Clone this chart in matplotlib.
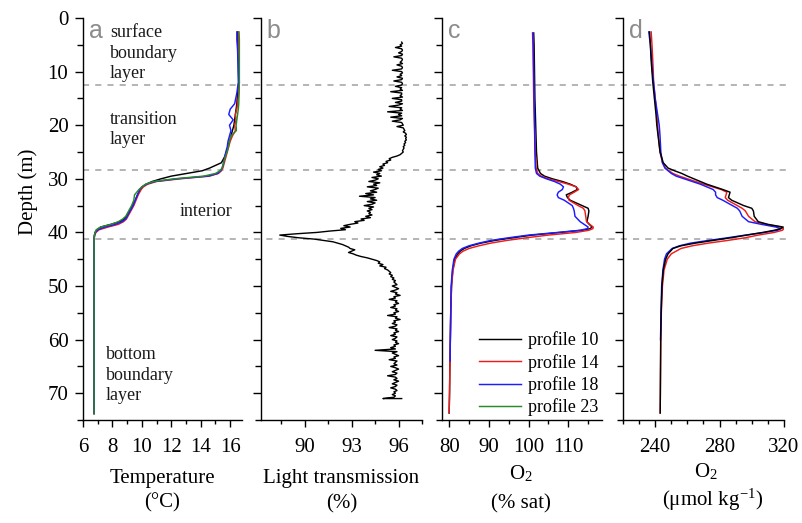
import numpy as np
import matplotlib
matplotlib.use('Agg')
import matplotlib.pyplot as plt
from matplotlib.ticker import MultipleLocator, FixedLocator
from matplotlib.lines import Line2D
import matplotlib.transforms as mtransforms

plt.rcParams['font.family'] = ['Liberation Serif', 'DejaVu Serif']
plt.rcParams['mathtext.fontset'] = 'stix'

# ---------------- data ----------------
profiles = ['profile 10', 'profile 14', 'profile 18', 'profile 23']
colors = ['#000000', '#ee1c1c', '#1c1cff', '#2a8a2a']

# Panel a: temperature (degC)
depth_t = [2.6, 4, 6, 8, 10, 12, 14, 16, 17, 18, 19, 20, 21, 22, 23, 24, 25, 26, 27, 28,
           28.5, 29, 29.5, 30, 30.5, 31, 31.5, 32, 33, 34, 35, 36, 37, 37.5, 38, 38.5,
           39, 39.5, 40, 40.5, 41, 42, 45, 50, 60, 70, 73.8]
temp_10 = [16.50, 16.50, 16.52, 16.55, 16.55, 16.58, 16.50, 16.45, 16.40, 16.35,
           16.30, 16.25, 16.15, 16.05, 15.95, 15.85, 15.75, 15.60, 15.40, 14.60,
           14.10, 13.05, 12.00, 11.30, 10.70, 10.30, 10.05, 9.90, 9.70, 9.55,
           9.35, 9.15, 8.95, 8.80, 8.50, 7.90, 7.20, 6.95, 6.82, 6.78,
           6.76, 6.75, 6.75, 6.75, 6.75, 6.75, 6.75]
temp_14 = [16.55, 16.55, 16.58, 16.60, 16.60, 16.62, 16.58, 16.50, 16.45, 16.35,
           16.40, 16.30, 16.35, 16.15, 16.00, 15.90, 15.80, 15.70, 15.60, 15.50,
           15.40, 15.20, 14.60, 12.60, 11.00, 10.40, 10.10, 9.95, 9.75, 9.60,
           9.45, 9.25, 9.05, 8.95, 8.75, 8.40, 7.70, 7.10, 6.88, 6.80,
           6.77, 6.75, 6.75, 6.75, 6.75, 6.75, 6.75]
temp_18 = [16.45, 16.45, 16.50, 16.52, 16.55, 16.55, 16.45, 16.30, 16.00, 15.90,
           16.20, 15.95, 16.05, 15.95, 15.85, 15.80, 15.70, 15.62, 15.55, 15.45,
           15.35, 15.15, 14.50, 12.40, 10.90, 10.30, 10.00, 9.85, 9.70, 9.55,
           9.40, 9.20, 9.00, 8.90, 8.65, 8.20, 7.50, 7.00, 6.85, 6.78,
           6.76, 6.75, 6.75, 6.75, 6.75, 6.75, 6.75]
temp_23 = [16.60, 16.62, 16.62, 16.62, 16.62, 16.62, 16.60, 16.58, 16.55, 16.50,
           16.45, 16.40, 16.42, 16.05, 15.95, 15.88, 15.78, 15.65, 15.55, 15.45,
           15.30, 15.00, 14.20, 12.20, 10.80, 10.25, 10.00, 9.80, 9.50, 9.45,
           9.30, 9.10, 8.90, 8.70, 8.40, 7.90, 7.20, 6.90, 6.82, 6.78,
           6.76, 6.75, 6.75, 6.75, 6.75, 6.75, 6.75]

# Panel b: light transmission (%), 0.25 m sampling from 4.5 m to 71 m (+ end tick)
trans_depth = list(np.arange(4.5, 71.001, 0.25)) + [71.0]
trans = [
    96.2, 96.25, 96.1, 96.2, 95.8, 96.2, 96.25, 96.2, 96.0, 96.25, 96.2, 95.7, 96.2, 96.25, 96.2, 96.1, 96.25, 95.9, 96.2, 96.25,
    96.2, 95.6, 96.2, 96.25, 96.1, 96.2, 95.9, 96.25, 96.2, 95.7, 96.2, 96.25, 96.2, 95.8, 96.2, 96.1, 96.25, 95.5, 96.2, 96.2,
    96.1, 96.25, 95.6, 96.2, 96.2, 95.8, 96.25, 96.0, 95.4, 96.2, 96.1, 96.25, 95.3, 96.2, 96.0, 96.2, 95.5, 96.25, 96.1, 95.6,
    96.2, 96.25, 96.3, 95.9, 96.3, 96.35, 96.4, 96.3, 96.45, 96.5, 96.4, 96.5, 96.45, 96.5, 96.4, 96.45, 96.35, 96.4, 96.3, 96.35,
    96.3, 96.25, 96.3, 96.2, 96.1, 95.9, 95.6, 95.4, 95.5, 95.2, 95.3, 95.0, 95.1, 94.8, 95.0, 94.7, 94.9, 94.4, 94.8, 94.6,
    94.9, 94.3, 94.7, 94.5, 94.1, 94.8, 94.4, 94.6, 94.0, 94.7, 94.5, 94.2, 94.6, 93.9, 94.4, 93.5, 94.5, 94.2, 94.6, 94.0,
    94.5, 94.3, 93.8, 94.4, 94.1, 94.3, 94.0, 94.2, 94.1, 94.3, 93.9, 94.2, 93.6, 93.8, 93.2, 93.4, 92.9, 92.5, 92.9, 92.3,
    92.6, 91.6, 90.8, 89.5, 88.4, 88.9, 89.6, 90.6, 91.2, 91.8, 92.1, 92.4, 92.6, 92.8, 92.9, 93.2, 93.0, 92.8, 93.1, 93.3,
    93.6, 94.0, 94.3, 94.6, 94.8, 94.7, 95.0, 94.8, 95.2, 95.1, 95.3, 95.4, 95.5, 95.4, 95.6, 95.5, 95.7, 95.6, 95.8, 95.7,
    95.8, 95.9, 95.6, 95.8, 96.0, 95.8, 95.5, 95.9, 95.8, 96.1, 95.7, 95.8, 95.4, 95.9, 95.8, 96.0, 95.7, 95.8, 95.5, 95.9,
    95.8, 96.0, 95.7, 95.8, 95.3, 95.9, 95.8, 96.1, 95.7, 95.8, 95.6, 95.9, 95.8, 95.4, 95.9, 95.8, 96.0, 95.7, 95.8, 95.5,
    95.9, 95.8, 95.6, 95.9, 95.8, 96.0, 95.7, 95.8, 95.5, 95.8, 94.5, 95.9, 95.6, 95.8, 96.0, 95.7, 95.8, 95.4, 95.9, 95.8,
    95.7, 95.9, 95.5, 95.8, 96.0, 95.8, 95.6, 95.9, 95.8, 95.3, 95.8, 95.9, 95.7, 96.0, 95.8, 95.6, 95.9, 95.8, 95.5, 95.8,
    95.9, 95.7, 95.8, 95.6, 95.8, 95.7, 95.0, 96.2]

# Panel c: O2 (% saturation)
depth_c = [2.8, 5, 10, 15, 20, 25, 28, 29, 29.5, 30, 30.5, 31, 31.5, 32, 32.5, 33, 33.5,
           34, 35, 35.5, 36, 37, 38, 38.5, 39, 39.3, 39.6, 40, 40.5, 41, 41.5, 42, 42.5,
           43, 43.5, 44, 45, 47, 50, 55, 60, 64, 70, 73.7]
sat_10 = [101.3, 101.4, 101.5, 101.6, 101.8, 102.0, 102.3,
          103.0, 104.0, 106.0, 108.5, 110.5, 112.0, 112.3,
          111.0, 109.5, 109.8, 110.5, 113.5, 115.0, 115.2,
          115.0, 114.7, 115.3, 116.0, 115.5, 113.5, 108.0,
          101.0, 96.0, 91.5, 88.0, 85.5, 83.8, 82.8,
          82.2, 81.4, 80.9, 80.6, 80.4, 80.3, 80.2, 80.1, 80.0]
sat_14 = [101.0, 101.1, 101.2, 101.3, 101.5, 101.7, 101.9,
          102.3, 103.2, 105.0, 107.5, 110.0, 112.0, 112.6,
          111.5, 110.3, 110.0, 110.2, 112.5, 113.8, 114.2,
          114.4, 114.6, 115.4, 116.3, 116.2, 115.2, 112.0,
          105.0, 99.5, 94.5, 90.5, 87.5, 85.0, 83.5,
          82.6, 81.6, 81.0, 80.6, 80.4, 80.3, 80.2, 80.1, 80.0]
sat_18 = [101.1, 101.2, 101.3, 101.4, 101.5, 101.6, 101.7,
          102.0, 102.8, 104.5, 106.5, 108.0, 108.8, 108.5,
          107.5, 107.2, 107.5, 109.0, 111.0, 111.3, 111.5,
          111.7, 113.0, 114.0, 115.0, 114.8, 113.0, 107.5,
          100.0, 95.0, 90.5, 87.5, 85.0, 83.3, 82.4,
          81.8, 81.2, 80.8, 80.5, 80.4, 80.3, 80.25, np.nan, np.nan]

# Panel d: O2 (umol/kg)
depth_d = [2.6, 5, 8, 10, 12, 15, 18, 20, 22, 25, 27, 28, 28.5, 29, 29.5, 30, 31, 32,
           32.5, 33, 33.5, 34, 35, 35.5, 36, 37, 38, 38.5, 39, 39.3, 39.6, 40, 40.5,
           41, 41.5, 42, 42.5, 43, 44, 45, 47, 50, 55, 60, 70, 73.7]
conc_10 = [236.5, 237.0, 237.5, 238.0, 238.5, 239.5, 240.5, 241.0, 241.8, 243.0,
           245.0, 248.0, 252.0, 256.5, 260.0, 264.0, 272.0, 282.0, 286.5, 286.0,
           285.5, 287.5, 295.0, 300.0, 301.0, 301.5, 304.0, 310.0, 319.5, 318.0,
           314.0, 307.0, 297.0, 287.0, 276.0, 265.0, 256.0, 251.0, 248.0, 246.5,
           245.0, 244.2, 243.7, 243.4, 243.2, 243.1]
conc_14 = [237.5, 238.0, 238.5, 238.8, 239.0, 240.0, 241.0, 241.5, 242.0, 243.0,
           244.5, 246.5, 248.5, 251.0, 255.0, 260.0, 270.0, 281.0, 284.5, 284.0,
           283.5, 285.0, 291.0, 294.0, 296.0, 298.0, 302.0, 309.0, 318.0, 320.0,
           319.0, 314.0, 304.0, 296.0, 285.0, 273.0, 263.0, 256.0, 250.0, 247.5,
           245.5, 244.5, 243.8, 243.5, 243.2, 243.1]
conc_18 = [236.0, 237.0, 237.8, 238.3, 239.0, 240.0, 241.5, 242.5, 243.0, 243.5,
           244.5, 246.0, 248.0, 250.0, 253.0, 258.0, 268.0, 276.0, 277.5, 277.5,
           278.5, 282.0, 288.0, 291.0, 292.5, 294.0, 298.0, 306.0, 315.0, 318.0,
           316.0, 308.0, 296.0, 285.0, 273.0, 262.0, 255.0, 250.5, 247.0, 245.8,
           244.8, 244.0, 243.6, 243.3, np.nan, np.nan]

layer_depths = [12.5, 28.3, 41.3]
panel_letters = ['a', 'b', 'c', 'd']

# ---------------- layout ----------------
W, H = 803, 523
fig = plt.figure(figsize=(W / 100, H / 100), dpi=100)


def rect(x0, x1, ytop, ybot):
    return [x0 / W, 1 - ybot / H, (x1 - x0) / W, (ybot - ytop) / H]


ax_a = fig.add_axes(rect(83, 242, 18, 420))
ax_b = fig.add_axes(rect(261, 422, 18, 420))
ax_c = fig.add_axes(rect(442, 602, 18, 420))
ax_d = fig.add_axes(rect(623, 784, 18, 420))
axes = [ax_a, ax_b, ax_c, ax_d]

lw = 1.05
la = []
for vals, c in zip([temp_10, temp_14, temp_18, temp_23], colors):
    l, = ax_a.plot(vals, depth_t, color=c, lw=lw)
    la.append(l)

ax_b.plot(trans, trans_depth, color='black', lw=1.0)

ax_c.plot(sat_10, depth_c, color=colors[0], lw=lw)
ax_c.plot(sat_14, depth_c, color=colors[1], lw=lw)
ax_c.plot(sat_18, depth_c, color=colors[2], lw=lw)

ax_d.plot(conc_14, depth_d, color=colors[1], lw=lw)
ax_d.plot(conc_18, depth_d, color=colors[2], lw=lw)
ax_d.plot(conc_10, depth_d, color=colors[0], lw=lw)

xlims = [(6, 16.8), (87.2, 97.5), (78.2, 118.5), (220, 320)]
xmaj = [MultipleLocator(2), FixedLocator([90, 93, 96]), MultipleLocator(10), MultipleLocator(40)]
xmin = [MultipleLocator(1), MultipleLocator(1.5), MultipleLocator(5), MultipleLocator(10)]

for ax, xl, mj, mn in zip(axes, xlims, xmaj, xmin):
    ax.set_xlim(*xl)
    ax.set_ylim(75, 0)
    ax.xaxis.set_major_locator(mj)
    ax.xaxis.set_minor_locator(mn)
    ax.yaxis.set_major_locator(MultipleLocator(10))
    ax.yaxis.set_minor_locator(MultipleLocator(5))
    for s in ['top', 'right']:
        ax.spines[s].set_visible(False)
    for s in ['left', 'bottom']:
        ax.spines[s].set_linewidth(1.0)
    ax.tick_params(axis='both', which='major', direction='out', width=1.0, labelsize=15)
    ax.tick_params(axis='y', which='major', length=6, pad=4.5)
    ax.tick_params(axis='y', which='minor', direction='out', length=4, width=1.0)
    ax.tick_params(axis='x', which='major', length=5, pad=8)
    ax.tick_params(axis='x', which='minor', direction='out', length=3, width=1.0)
    ax.patch.set_alpha(0)
    if ax is not ax_a:
        ax.tick_params(axis='y', labelleft=False)

# panel letters
for ax, letter in zip(axes, panel_letters):
    ax.text(0.035, 0.967, letter, transform=ax.transAxes, ha='left', va='center',
            fontsize=18, color='#8c8c8c', family=['Liberation Sans', 'DejaVu Sans'])

# y label
fig.text(28 / W, 1 - 192 / H, 'Depth (m)', rotation=90, ha='center', va='center', fontsize=15)


def ftext(x, y, s, **kw):
    fig.text(x / W, 1 - y / H, s, **kw)


# x labels (two lines each)
ftext(162.5, 479, 'Temperature', ha='center', va='center', fontsize=15)
ftext(162.5, 503, '(°C)', ha='center', va='center', fontsize=15)
ftext(341.5, 479, 'Light transmission', ha='center', va='center', fontsize=15)
ftext(341.5, 504, '(%)', ha='center', va='center', fontsize=15)
ftext(521, 474, r'O$_\mathregular{2}$', ha='center', va='center', fontsize=15)
ftext(521, 504, '(% sat)', ha='center', va='center', fontsize=15)
ftext(706, 472, r'O$_\mathregular{2}$', ha='center', va='center', fontsize=15)
ftext(713, 500, r'(μmol kg$^{\mathregular{-1}}$)', ha='center', va='center', fontsize=15)

# annotations in panel a
ann = dict(fontsize=13, color='#1a1a1a', linespacing=1.25, ha='left', va='center')
ftext(110, 53, 'surface\nboundary\nlayer', **ann)
ftext(110, 129.5, 'transition\nlayer', **ann)
ftext(180, 212, 'interior', **ann)
ftext(106, 375, 'bottom\nboundary\nlayer', **ann)

# dashed layer boundaries spanning all panels
trans_mixed = mtransforms.blended_transform_factory(fig.transFigure, ax_a.transData)
for d in layer_depths:
    fig.add_artist(Line2D([83 / W, 786 / W], [d, d], transform=trans_mixed,
                          color='#a0a0a0', lw=1.1, ls=(0, (4, 4)), zorder=0))

# legend in panel c
ax_c.legend(la, profiles, loc='lower right', bbox_to_anchor=(1.0, 0.0), frameon=False,
            fontsize=13, handlelength=2.3, handletextpad=0.4, labelspacing=0.25,
            borderaxespad=0.0, borderpad=0.2)

fig.savefig('out.png', dpi=100)
